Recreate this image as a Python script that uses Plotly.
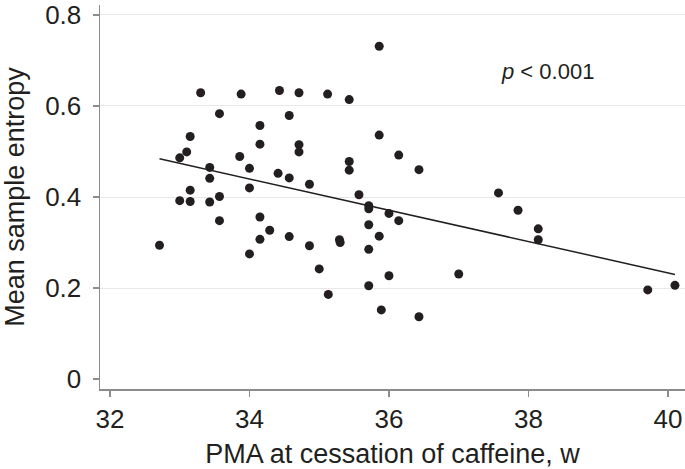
import plotly.graph_objects as go

# PMA at cessation of caffeine (weeks) and mean sample entropy
x_pma = [32.71, 33.00, 33.00, 33.10, 33.15, 33.15, 33.15, 33.30, 33.43, 33.43,
         33.43, 33.57, 33.57, 33.57, 33.86, 33.88, 34.00, 34.00, 34.00, 34.15,
         34.15, 34.15, 34.15, 34.29, 34.41, 34.43, 34.57, 34.57, 34.57, 34.71,
         34.71, 34.71, 34.86, 34.86, 35.00, 35.12, 35.13, 35.29, 35.30, 35.43,
         35.43, 35.43, 35.57, 35.71, 35.71, 35.71, 35.71, 35.71, 35.86, 35.86,
         35.86, 35.89, 36.00, 36.00, 36.14, 36.14, 36.43, 36.43, 37.00, 37.57,
         37.85, 38.14, 38.14, 39.71, 40.10]
y_entropy = [0.294, 0.486, 0.392, 0.499, 0.533, 0.415, 0.390, 0.629, 0.465, 0.441,
             0.389, 0.583, 0.401, 0.348, 0.489, 0.626, 0.463, 0.420, 0.275, 0.557,
             0.516, 0.356, 0.307, 0.327, 0.452, 0.634, 0.579, 0.442, 0.313, 0.629,
             0.515, 0.499, 0.428, 0.293, 0.242, 0.626, 0.186, 0.306, 0.300, 0.614,
             0.478, 0.459, 0.405, 0.381, 0.374, 0.339, 0.285, 0.205, 0.731, 0.536,
             0.314, 0.152, 0.364, 0.227, 0.492, 0.348, 0.460, 0.137, 0.231, 0.409,
             0.371, 0.330, 0.306, 0.196, 0.206]

# Regression line end points
fit_x = [32.71, 40.10]
fit_y = [0.484, 0.230]

y_ticks = [0, 0.2, 0.4, 0.6, 0.8]
y_tick_text = ["0", "0.2", "0.4", "0.6", "0.8"]
grid_ticks = [0.2, 0.4, 0.6, 0.8]
x_ticks = [32, 34, 36, 38, 40]

ink = "#231f20"
axis_grey = "#8c8c8c"
font_family = "Liberation Sans, Arial, Helvetica, sans-serif"

fig = go.Figure()
fig.add_trace(go.Scatter(x=x_pma, y=y_entropy, mode="markers",
                         marker=dict(size=9, color=ink), showlegend=False,
                         hoverinfo="skip", cliponaxis=False))
fig.add_trace(go.Scatter(x=fit_x, y=fit_y, mode="lines",
                         line=dict(color=ink, width=1.5), showlegend=False,
                         hoverinfo="skip"))

fig.add_annotation(x=37.58, y=0.675, xref="x", yref="y",
                   text="<i>p</i> < 0.001", showarrow=False,
                   xanchor="left", yanchor="middle",
                   font=dict(size=22, color=ink, family=font_family))

yrange = [-0.0217, 0.8217]
fig.update_layout(
    width=685, height=469,
    margin=dict(l=100, r=0, t=0, b=80),
    paper_bgcolor="white", plot_bgcolor="white",
    font=dict(family=font_family, size=26, color=ink),
    xaxis=dict(range=[31.857, 40.244], tickvals=x_ticks, showgrid=False,
               zeroline=False, showline=True, linecolor=axis_grey, linewidth=1.5,
               ticks="outside", ticklen=6, tickcolor=axis_grey, tickwidth=1.5,
               ticklabeloverflow="allow",
               title=dict(text="PMA at cessation of caffeine, w", standoff=14,
                          font=dict(size=27, color=ink)),
               tickfont=dict(size=26, color=ink)),
    yaxis=dict(range=yrange, tickvals=y_ticks, ticktext=y_tick_text,
               showgrid=False, zeroline=False, showline=True,
               linecolor=axis_grey, linewidth=1.5,
               ticks="outside", ticklen=6, tickcolor=axis_grey, tickwidth=1.5,
               ticklabelstandoff=6, ticklabeloverflow="allow",
               minor=dict(tickvals=grid_ticks, showgrid=True,
                          gridcolor="#e8e8e8", gridwidth=1, ticks=""),
               title=dict(text="Mean sample entropy", standoff=22,
                          font=dict(size=27, color=ink)),
               tickfont=dict(size=26, color=ink)),
)

fig.write_html("out.html",
               config={"displayModeBar": False, "staticPlot": True},
               post_script="document.body.style.margin='0';document.body.style.overflow='hidden';")
